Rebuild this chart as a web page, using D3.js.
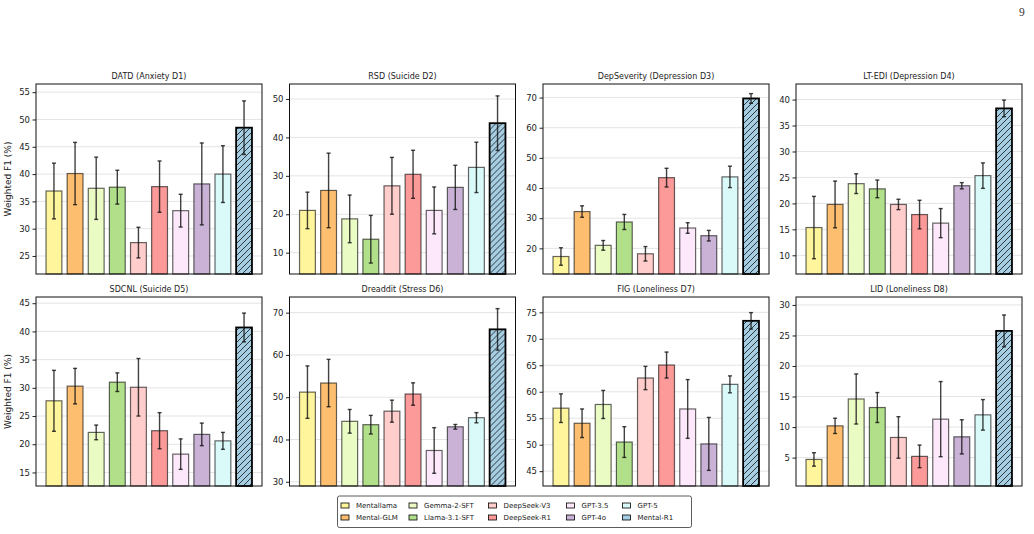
<!DOCTYPE html>
<html>
<head>
<meta charset="utf-8">
<script src="https://cdn.jsdelivr.net/npm/d3@7"></script>
<style>
  body { margin: 0; background: #fff; }
  svg text { font-family: "DejaVu Sans", sans-serif; fill: #222; }
  svg text.pagenum { font-family: "Liberation Serif", "DejaVu Serif", serif; fill: #333; }
</style>
</head>
<body>
<div id="chart"></div>
<script>
// ---- data ----
const models = ["Mentallama", "Mental-GLM", "Gemma-2-SFT", "Llama-3.1-SFT", "DeepSeek-V3",
                "DeepSeek-R1", "GPT-3.5", "GPT-4o", "GPT-5", "Mental-R1"];
const modelColors = ["#FFF59D", "#FDBF6F", "#EBFBC4", "#B2DF8A", "#FFCDCB",
                     "#FB9A99", "#FDE7FB", "#CAB2D6", "#DAFAFA", "#A6CEE3"];

const titles = ["DATD (Anxiety D1)", "RSD (Suicide D2)", "DepSeverity (Depression D3)", "LT-EDI (Depression D4)",
                "SDCNL (Suicide D5)", "Dreaddit (Stress D6)", "FIG (Loneliness D7)", "LID (Loneliness D8)"];

// mean weighted F1 and +/- error, one pair per dataset
const meanD1 = [36.9, 40.1, 37.4, 37.6, 27.45, 37.7, 33.3, 38.2, 40.0, 48.5];
const errD1  = [5.1, 5.7, 5.7, 3.1, 2.8, 4.7, 3.0, 7.5, 5.2, 4.9];
const meanD2 = [21.0, 26.2, 18.8, 13.5, 27.4, 30.4, 21.0, 27.0, 32.2, 43.7];
const errD2  = [4.75, 9.7, 6.2, 6.2, 7.4, 6.25, 6.1, 5.75, 6.55, 7.1];
const meanD3 = [17.3, 32.2, 21.0, 28.75, 18.2, 43.45, 26.75, 24.2, 43.7, 69.7];
const errD3  = [2.9, 1.9, 1.6, 2.5, 2.4, 3.1, 1.75, 1.75, 3.55, 1.6];
const meanD4 = [15.35, 19.8, 23.8, 22.8, 19.8, 17.85, 16.2, 23.4, 25.35, 38.3];
const errD4  = [6.0, 4.5, 1.9, 1.7, 1.0, 2.75, 2.8, 0.6, 2.45, 1.6];
const meanD5 = [27.7, 30.3, 22.1, 31.0, 30.1, 22.4, 18.25, 21.75, 20.6, 40.7];
const errD5  = [5.4, 3.15, 1.3, 1.65, 5.1, 3.2, 2.7, 2.0, 1.5, 2.55];
const meanD6 = [51.2, 53.35, 44.3, 43.5, 46.7, 50.75, 37.4, 43.0, 45.15, 66.05];
const errD6  = [6.2, 5.6, 2.8, 2.2, 2.6, 2.65, 5.4, 0.55, 1.2, 4.9];
const meanD7 = [56.9, 54.05, 57.6, 50.5, 62.6, 65.05, 56.75, 50.15, 61.4, 73.4];
const errD7  = [2.7, 2.7, 2.65, 2.9, 2.2, 2.45, 5.55, 5.0, 1.6, 1.55];
const meanD8 = [4.7, 10.2, 14.6, 13.2, 8.3, 5.2, 11.3, 8.4, 12.0, 25.75];
const errD8  = [1.1, 1.25, 4.1, 2.45, 3.4, 1.85, 6.15, 2.8, 2.5, 2.6];

// y-axis limits and tick labels per panel
const yLimits = [[21.7, 56.5], [4.45, 53.9], [11.5, 74.5], [6.4, 43.0],
                 [12.6, 46.1], [29.0, 73.7], [42.2, 77.9], [0.35, 31.3]];
const yTicks = [[25, 30, 35, 40, 45, 50, 55], [10, 20, 30, 40, 50], [20, 30, 40, 50, 60, 70], [10, 15, 20, 25, 30, 35, 40],
                [15, 20, 25, 30, 35, 40, 45], [30, 40, 50, 60, 70], [45, 50, 55, 60, 65, 70, 75], [5, 10, 15, 20, 25, 30]];

const allMeans = [meanD1, meanD2, meanD3, meanD4, meanD5, meanD6, meanD7, meanD8];
const allErrs  = [errD1, errD2, errD3, errD4, errD5, errD6, errD7, errD8];

// ---- layout ----
const W = 1034, H = 534;
const colLeft = [36, 289.5, 543, 796];
const rowTop = [84, 297];
const panelW = 226, panelH = [190, 189];

const svg = d3.select("#chart").append("svg")
    .attr("width", W).attr("height", H);

// hatch for Mental-R1
const defs = svg.append("defs");
const pat = defs.append("pattern")
    .attr("id", "hatch")
    .attr("patternUnits", "userSpaceOnUse")
    .attr("width", 6).attr("height", 6);
pat.append("rect").attr("width", 6).attr("height", 6).attr("fill", modelColors[9]);
pat.append("path")
    .attr("d", "M-1,7 L7,-1 M-4,4 L4,-4 M2,10 L10,2")
    .attr("stroke", "#111").attr("stroke-width", 0.8);

// page number
svg.append("text")
    .attr("class", "pagenum")
    .attr("x", 1019).attr("y", 15.5)
    .attr("font-size", 11.5)
    .text("9");

titles.forEach(function(title, i) {
    const row = Math.floor(i / 4), col = i % 4;
    const h = panelH[row];
    const g = svg.append("g")
        .attr("transform", `translate(${colLeft[col]},${rowTop[row]})`);

    const x = d3.scaleLinear().domain([-0.85, 9.85]).range([0, panelW]);
    const y = d3.scaleLinear().domain(yLimits[i]).range([h, 0]);
    const barW = x(0.75) - x(0);

    // grid
    g.append("g").selectAll("line")
        .data(yTicks[i])
        .join("line")
        .attr("x1", 0).attr("x2", panelW)
        .attr("y1", d => y(d)).attr("y2", d => y(d))
        .attr("stroke", "#e4e4e4").attr("stroke-width", 1);

    const rows = models.map((m, k) => ({ k: k, mean: allMeans[i][k], err: allErrs[i][k] }));

    // bars
    g.append("g").selectAll("rect")
        .data(rows)
        .join("rect")
        .attr("x", d => x(d.k) - barW / 2)
        .attr("y", d => y(d.mean))
        .attr("width", barW)
        .attr("height", d => h - y(d.mean))
        .attr("fill", d => d.k === 9 ? "url(#hatch)" : modelColors[d.k])
        .attr("stroke", "#000")
        .attr("stroke-opacity", d => d.k === 9 ? 1 : 0.6)
        .attr("stroke-width", d => d.k === 9 ? 1.8 : 1.2);

    // error bars
    const eb = g.append("g").attr("stroke", "#111").attr("stroke-opacity", 0.8).attr("stroke-width", 1.4);
    eb.selectAll("line.v").data(rows).join("line").attr("class", "v")
        .attr("x1", d => x(d.k)).attr("x2", d => x(d.k))
        .attr("y1", d => y(d.mean + d.err)).attr("y2", d => y(d.mean - d.err));
    eb.selectAll("line.t").data(rows).join("line").attr("class", "t")
        .attr("x1", d => x(d.k) - 2).attr("x2", d => x(d.k) + 2)
        .attr("y1", d => y(d.mean + d.err)).attr("y2", d => y(d.mean + d.err));
    eb.selectAll("line.b").data(rows).join("line").attr("class", "b")
        .attr("x1", d => x(d.k) - 2).attr("x2", d => x(d.k) + 2)
        .attr("y1", d => y(d.mean - d.err)).attr("y2", d => y(d.mean - d.err));

    // y axis
    const yAxis = g.append("g")
        .call(d3.axisLeft(y).tickValues(yTicks[i]).tickSize(3.5).tickPadding(2.5));
    yAxis.select(".domain").remove();
    yAxis.selectAll("text").attr("font-size", 8.5).attr("font-family", "DejaVu Sans").attr("fill", "#222");
    yAxis.selectAll("line").attr("stroke", "#222");

    // frame
    g.append("rect")
        .attr("width", panelW).attr("height", h)
        .attr("fill", "none").attr("stroke", "#111").attr("stroke-width", 1);

    // title
    g.append("text")
        .attr("x", panelW / 2).attr("y", -5)
        .attr("text-anchor", "middle")
        .attr("font-size", 8)
        .text(title);

    if (col === 0) {
        g.append("text")
            .attr("transform", `translate(${-25},${h / 2}) rotate(-90)`)
            .attr("text-anchor", "middle")
            .attr("font-size", 9)
            .text("Weighted F1 (%)");
    }
});

// ---- legend ----
const legend = svg.append("g").attr("transform", "translate(337.5,496)");
legend.append("rect")
    .attr("width", 354).attr("height", 31.5)
    .attr("rx", 2)
    .attr("fill", "#fff").attr("stroke", "#333").attr("stroke-width", 0.8);

const legendColX = [3.5, 71.5, 151, 229, 285];
const legendRowY = [9.5, 21.5];
models.forEach(function(m, k) {
    const c = Math.floor(k / 2), r = k % 2;
    const item = legend.append("g")
        .attr("transform", `translate(${legendColX[c]},${legendRowY[r]})`);
    item.append("rect")
        .attr("x", 0).attr("y", -2.5)
        .attr("width", 8).attr("height", 5)
        .attr("fill", modelColors[k])
        .attr("stroke", "#000").attr("stroke-width", 0.8);
    item.append("text")
        .attr("x", 15).attr("y", 0)
        .attr("dy", "0.35em")
        .attr("font-size", 7)
        .text(m);
});
</script>
</body>
</html>
